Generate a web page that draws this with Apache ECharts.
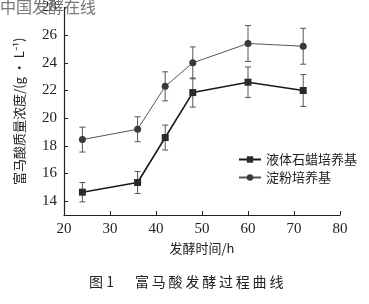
<!DOCTYPE html>
<html><head><meta charset="utf-8">
<script src="https://cdn.jsdelivr.net/npm/echarts@6/dist/echarts.min.js"></script>
<style>html,body{margin:0;padding:0;background:#fff}#c{width:369px;height:304px}</style>
</head><body><div id="c"></div>
<script>
const timeH = [24, 36, 42, 48, 60, 72];
const paraffin = [14.65, 15.35, 18.6, 21.85, 22.6, 22.0];
const paraffinErr = [0.7, 0.8, 0.9, 1.05, 1.1, 1.15];
const starch = [18.45, 19.2, 22.3, 24.0, 25.4, 25.2];
const starchErr = [0.9, 0.9, 1.05, 1.15, 1.3, 1.3];
const yTicks = [14, 16, 18, 20, 22, 24, 26, 28];
const seriesNames = ['液体石蜡培养基', '淀粉培养基'];
const xTitle = '发酵时间/h';
const yTitle = '富马酸质量浓度/(g · L⁻¹)';
const caption = ['图 1', '富马酸发酵过程曲线'];
const watermark = '中国发酵在线';

const serif = "'Liberation Serif','DejaVu Serif',serif";
const cjk = "'Noto Sans CJK SC',sans-serif";

function pairs(xs, ys) { return xs.map((x, i) => [x, ys[i]]); }
function errData(xs, ys, es) { return xs.map((x, i) => [x, ys[i] - es[i], ys[i] + es[i]]); }
function errRender(params, api) {
  const x = api.value(0);
  const lo = api.coord([x, api.value(1)]);
  const hi = api.coord([x, api.value(2)]);
  const w = 3;
  const st = { stroke: '#555', lineWidth: 1 };
  return { type: 'group', children: [
    { type: 'line', shape: { x1: lo[0], y1: lo[1], x2: hi[0], y2: hi[1] }, style: st },
    { type: 'line', shape: { x1: lo[0] - w, y1: lo[1], x2: lo[0] + w, y2: lo[1] }, style: st },
    { type: 'line', shape: { x1: hi[0] - w, y1: hi[1], x2: hi[0] + w, y2: hi[1] }, style: st }
  ]};
}

const chart = echarts.init(document.getElementById('c'));
chart.setOption({
  animation: false,
  backgroundColor: '#fff',
  grid: { left: 64, right: 29, top: 6, bottom: 89 },
  xAxis: {
    type: 'value', min: 20, max: 80, interval: 10,
    name: xTitle, nameLocation: 'middle', nameGap: 21,
    nameTextStyle: { fontFamily: cjk, fontSize: 13, color: '#222' },
    axisLine: { lineStyle: { color: '#222', width: 1.2 } },
    axisTick: { inside: true, length: 4, lineStyle: { color: '#222' } },
    axisLabel: { fontFamily: serif, fontSize: 15, color: '#222', margin: 7 },
    splitLine: { show: false }
  },
  yAxis: {
    type: 'value', min: 13, max: 28,
    name: yTitle, nameLocation: 'middle', nameGap: 38, nameRotate: 90,
    nameTextStyle: { fontFamily: cjk, fontSize: 13, color: '#222' },
    axisLine: { show: true, lineStyle: { color: '#222', width: 1.2 } },
    axisTick: { show: true, inside: true, length: 4, customValues: yTicks, lineStyle: { color: '#222' } },
    axisLabel: { fontFamily: serif, fontSize: 15, color: '#222', margin: 7, customValues: yTicks },
    splitLine: { show: false }
  },
  legend: {
    orient: 'vertical', left: 233, top: 148, itemGap: 5,
    itemWidth: 22, itemHeight: 8,
    data: seriesNames,
    textStyle: { fontFamily: cjk, fontSize: 13, color: '#222' }
  },
  series: [
    { name: seriesNames[0], type: 'line', data: pairs(timeH, paraffin),
      symbol: 'rect', symbolSize: 7,
      itemStyle: { color: '#2a2a2a' }, lineStyle: { color: '#1a1a1a', width: 1.6 }, z: 3 },
    { name: seriesNames[1], type: 'line', data: pairs(timeH, starch),
      symbol: 'circle', symbolSize: 7,
      itemStyle: { color: '#3a3a3a' }, lineStyle: { color: '#555', width: 1 }, z: 3 },
    { type: 'custom', data: errData(timeH, paraffin, paraffinErr), renderItem: errRender, z: 2, silent: true },
    { type: 'custom', data: errData(timeH, starch, starchErr), renderItem: errRender, z: 2, silent: true }
  ],
  graphic: [
    { type: 'text', left: 0, top: -1, z: 10, style: { text: watermark, fontFamily: cjk, fontSize: 16, fill: '#777' } },
    { type: 'text', left: 89, top: 275, style: { text: caption[0], fontFamily: cjk, fontSize: 14, fill: '#222' } },
    { type: 'text', left: 135, top: 275, style: { text: caption[1].split('').join('\u2009'), fontFamily: cjk, fontSize: 14, fill: '#222' } }
  ]
});
</script></body></html>
